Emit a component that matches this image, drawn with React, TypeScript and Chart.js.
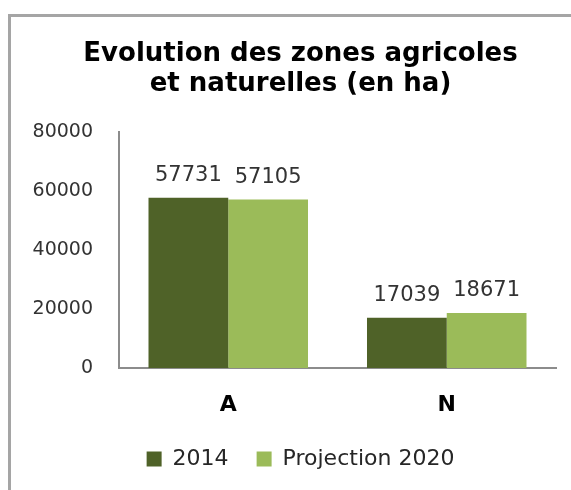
import React, { useEffect, useRef } from "react";
import { Chart, registerables } from "chart.js";

Chart.register(...registerables);

const categories = ["A", "N"];
const series2014 = [57731, 17039];
const series2020 = [57105, 18671];
const seriesNames = ["2014", "Projection 2020"];
const yTicks = [0, 20000, 40000, 60000, 80000];
const titleLines = ["Evolution des zones agricoles", "et naturelles (en ha)"];

const FONT = '"DejaVu Sans", sans-serif';

const dataLabelPlugin = {
  id: "dataLabels",
  afterDatasetsDraw(chart: any) {
    const ctx = chart.ctx;
    ctx.save();
    ctx.font = `21px ${FONT}`;
    ctx.fillStyle = "#333333";
    ctx.textAlign = "center";
    ctx.textBaseline = "alphabetic";
    chart.data.datasets.forEach((ds: any, i: number) => {
      chart.getDatasetMeta(i).data.forEach((bar: any, j: number) => {
        ctx.fillText(String(ds.data[j]), bar.x, bar.y - 17);
      });
    });
    ctx.restore();
  },
};

export default function App() {
  const ref = useRef<HTMLCanvasElement>(null);
  useEffect(() => {
    if (!ref.current) return;
    const chart = new Chart(ref.current, {
      type: "bar",
      data: {
        labels: categories,
        datasets: [
          { label: seriesNames[0], data: series2014, backgroundColor: "#4f6228", barPercentage: 1, categoryPercentage: 0.73, yAxisID: "y" },
          { label: seriesNames[1], data: series2020, backgroundColor: "#9bbb59", barPercentage: 1, categoryPercentage: 0.73, yAxisID: "y" },
        ],
      },
      options: {
        responsive: false,
        animation: false,
        layout: { padding: { left: 30, right: 0, top: 0, bottom: 10 } },
        plugins: {
          title: {
            display: true,
            text: titleLines,
            color: "#000000",
            font: { family: FONT, size: 26, weight: "bold", lineHeight: 1.154 },
            padding: { top: 39, bottom: 33 },
          },
          legend: {
            display: true,
            position: "bottom",
            labels: {
              color: "#262626",
              font: { family: FONT, size: 22 },
              boxWidth: 15,
              boxHeight: 15,
              padding: 28,
            },
          },
          tooltip: { enabled: false },
        },
        scales: {
          x: {
            grid: { display: false, drawTicks: false, tickLength: 0 },
            border: { display: true, color: "#8c8c8c", width: 2 },
            afterFit: (s: any) => { s.height = 52; },
            ticks: { color: "#000000", font: { family: FONT, size: 22, weight: "bold" }, padding: 24 },
          },
          y: {
            min: 0,
            max: 80000,
            grid: { display: false, drawTicks: false, tickLength: 0 },
            border: { display: true, color: "#8c8c8c", width: 2 },
            afterFit: (s: any) => { s.width = 89; },
            afterBuildTicks: (s: any) => { s.ticks = yTicks.map((v) => ({ value: v })); },
            ticks: {
              color: "#333333",
              font: { family: FONT, size: 19 },
              padding: 26,
              callback: (v: any) => String(v),
            },
          },
          y2: {
            position: "right",
            display: true,
            grid: { display: false, drawTicks: false, tickLength: 0 },
            border: { display: false },
            ticks: { display: false },
            afterFit: (s: any) => { s.width = 15; },
          },
        },
      },
      plugins: [dataLabelPlugin],
    });
    return () => chart.destroy();
  }, []);

  return (
    <div style={{ position: "fixed", left: 0, top: 0, width: 571, height: 490, background: "#ffffff" }}>
      <div
        style={{
          position: "absolute",
          left: 8,
          top: 14,
          right: -10,
          bottom: -10,
          borderTop: "3px solid #a5a5a5",
          borderLeft: "3px solid #a5a5a5",
        }}
      />
      <canvas ref={ref} width={571} height={490} style={{ position: "absolute", left: 0, top: 0 }} />
    </div>
  );
}
